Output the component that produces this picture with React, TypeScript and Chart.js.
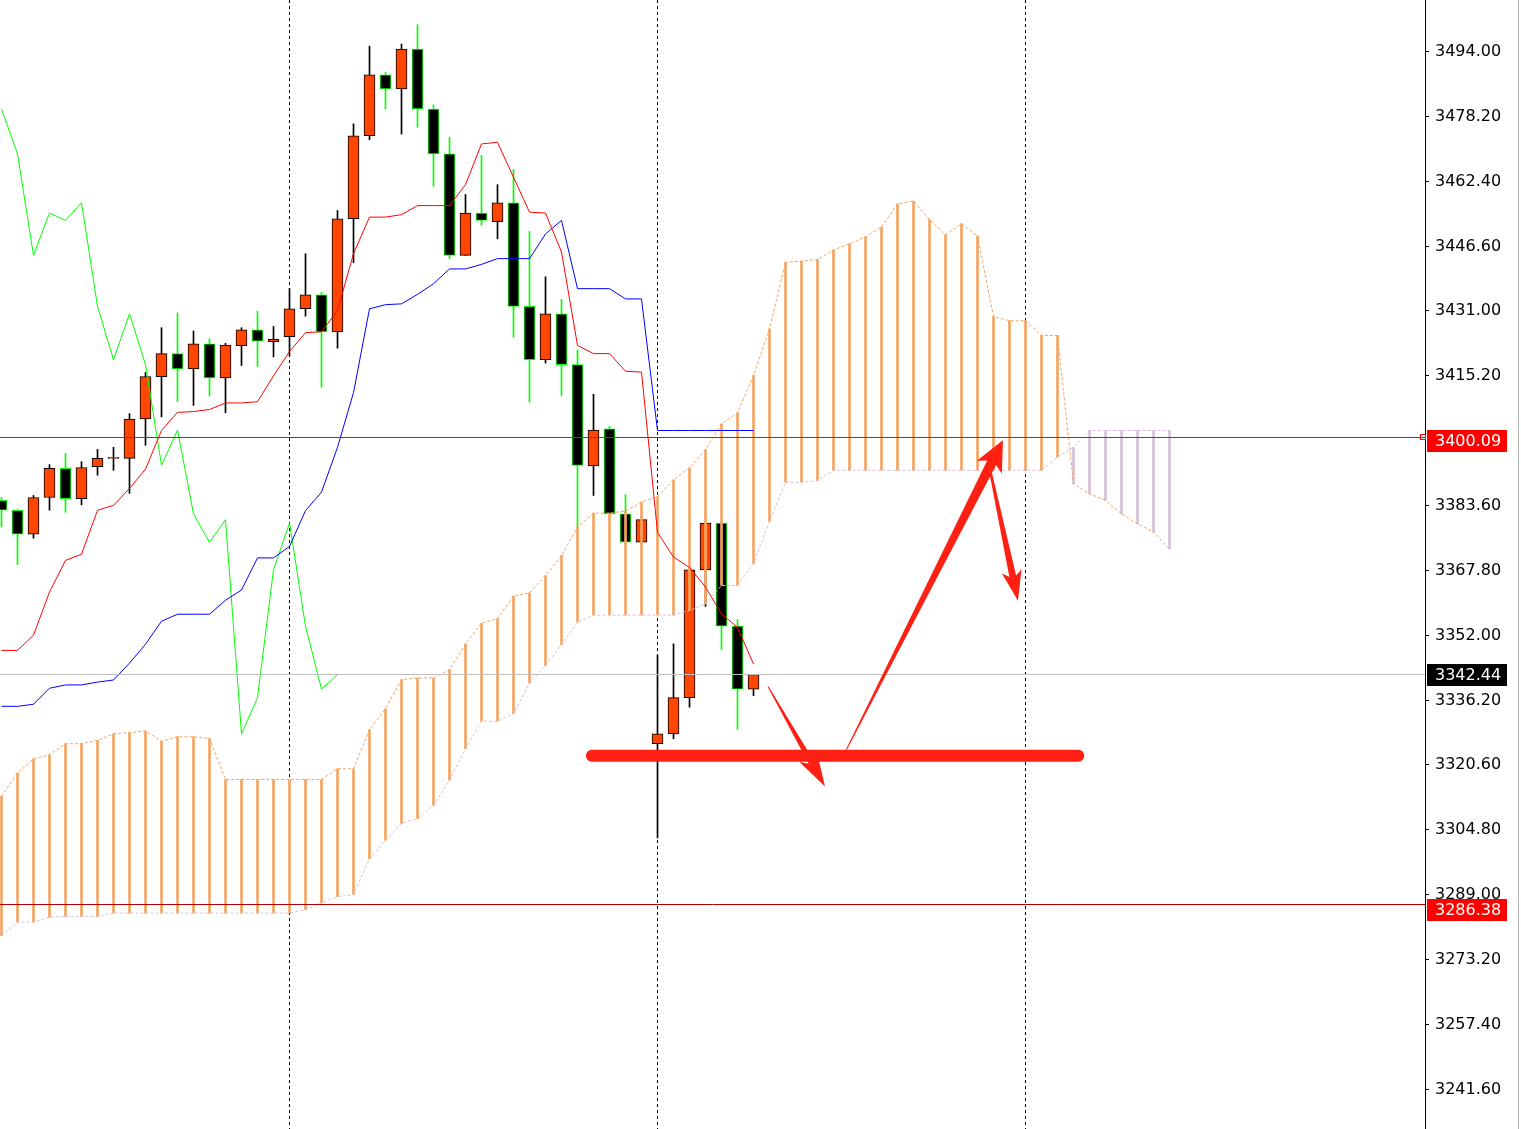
import React, { useEffect, useRef } from 'react';
import { Chart, registerables } from 'chart.js';

Chart.register(...registerables);

// ---- Candles (bar index 0..47) ----
const opens = [3384.8, 3382.4, 3376.6, 3385.5, 3392.6, 3385.2, 3393.0, 3395.0, 3395.0, 3404.6, 3414.9, 3420.5, 3416.8, 3422.9, 3414.6, 3422.4, 3426.3, 3423.4, 3424.6, 3431.4, 3434.8, 3425.8, 3453.3, 3473.5, 3488.3, 3484.9, 3494.6, 3480.0, 3469.1, 3444.4, 3454.7, 3452.6, 3457.2, 3432.0, 3419.0, 3430.2, 3417.8, 3393.2, 3402.2, 3381.5, 3374.6, 3325.6, 3328.0, 3336.8, 3367.9, 3379.3, 3354.2, 3338.9];
const highs = [3385.5, 3382.6, 3386.0, 3393.5, 3396.2, 3394.2, 3397.2, 3397.7, 3405.9, 3415.9, 3426.8, 3430.4, 3426.0, 3424.1, 3423.0, 3426.8, 3430.8, 3427.1, 3436.3, 3444.8, 3435.4, 3455.3, 3476.4, 3495.3, 3488.9, 3495.8, 3500.5, 3481.0, 3473.1, 3459.2, 3468.7, 3461.6, 3465.3, 3450.2, 3439.2, 3433.7, 3421.3, 3410.6, 3402.8, 3386.2, 3380.1, 3347.1, 3349.9, 3367.9, 3379.3, 3379.3, 3355.8, 3342.44];
const lows = [3378.4, 3369.2, 3375.6, 3382.4, 3381.9, 3383.7, 3390.9, 3392.1, 3386.5, 3398.2, 3405.1, 3408.8, 3407.9, 3410.2, 3406.1, 3417.6, 3417.4, 3419.7, 3420.0, 3429.6, 3412.3, 3421.8, 3442.6, 3472.5, 3480.0, 3473.9, 3475.6, 3461.2, 3443.6, 3444.4, 3451.7, 3448.4, 3424.5, 3408.7, 3418.2, 3410.3, 3378.3, 3386.0, 3381.5, 3374.6, 3374.6, 3302.7, 3326.8, 3334.5, 3359.0, 3348.5, 3329.1, 3337.3];
const closes = [3382.4, 3376.6, 3385.5, 3392.6, 3385.2, 3392.8, 3395.0, 3395.0, 3404.6, 3414.9, 3420.5, 3416.8, 3422.9, 3414.6, 3422.6, 3426.3, 3423.5, 3424.0, 3431.4, 3434.8, 3425.8, 3453.3, 3473.5, 3488.3, 3484.9, 3494.6, 3480.0, 3469.1, 3444.4, 3454.7, 3452.9, 3457.2, 3432.0, 3419.0, 3430.2, 3417.8, 3393.3, 3401.9, 3381.5, 3374.6, 3380.1, 3328.0, 3336.8, 3367.9, 3379.3, 3354.2, 3338.9, 3342.44];

// ---- Ichimoku ----
const tenkan = [3348.3, 3348.3, 3352.0, 3362.5, 3370.2, 3371.7, 3382.4, 3383.6, 3387.7, 3392.4, 3401.8, 3406.2, 3406.4, 3406.9, 3408.5, 3408.5, 3408.8, 3415.1, 3421.0, 3425.6, 3425.8, 3431.0, 3444.8, 3453.7, 3453.7, 3454.3, 3456.5, 3456.5, 3456.5, 3461.6, 3471.5, 3471.9, 3463.4, 3454.9, 3454.7, 3445.2, 3422.5, 3420.5, 3420.5, 3416.2, 3416.0, 3377.0, 3371.0, 3368.5, 3363.7, 3357.2, 3353.9, 3345.0];
const kijun = [3334.7, 3334.7, 3335.2, 3339.1, 3339.9, 3339.9, 3340.6, 3341.1, 3345.2, 3349.8, 3355.4, 3357.1, 3357.1, 3357.1, 3360.5, 3363.0, 3370.8, 3370.8, 3373.6, 3382.3, 3386.8, 3397.7, 3411.0, 3431.4, 3432.4, 3432.6, 3434.9, 3437.5, 3441.1, 3441.1, 3442.2, 3443.6, 3443.6, 3443.6, 3449.6, 3452.9, 3436.3, 3436.3, 3436.3, 3433.8, 3433.8, 3401.8, 3401.8, 3401.8, 3401.8, 3401.8, 3401.8, 3401.8];
// Senkou spans, bar index 0..73 (26 bars ahead of the last candle)
const spanA = [3312.8, 3318.5, 3321.9, 3322.9, 3325.6, 3325.6, 3326.4, 3328.0, 3328.3, 3328.7, 3326.2, 3327.3, 3327.3, 3326.9, 3316.9, 3316.9, 3316.9, 3316.9, 3316.9, 3316.9, 3316.9, 3319.5, 3319.5, 3329.0, 3334.1, 3341.2, 3341.6, 3341.6, 3343.6, 3349.9, 3354.9, 3356.0, 3361.5, 3362.3, 3366.5, 3371.4, 3378.3, 3381.7, 3381.7, 3382.2, 3384.4, 3385.7, 3389.8, 3392.7, 3397.1, 3403.4, 3406.1, 3415.2, 3426.5, 3442.7, 3443.0, 3443.4, 3445.7, 3447.2, 3448.9, 3451.3, 3456.9, 3457.6, 3453.1, 3449.4, 3452.1, 3449.1, 3429.5, 3428.5, 3428.5, 3424.9, 3424.9, 3388.8, 3386.4, 3384.8, 3381.5, 3379.1, 3377.1, 3373.0];
const spanB = [3278.9, 3282.2, 3282.2, 3283.4, 3283.6, 3283.6, 3283.6, 3284.4, 3284.4, 3284.4, 3284.4, 3284.4, 3284.4, 3284.4, 3284.4, 3284.4, 3284.4, 3284.4, 3284.4, 3285.2, 3286.9, 3288.4, 3288.9, 3297.6, 3302.1, 3306.2, 3307.4, 3310.6, 3316.7, 3324.4, 3331.1, 3331.1, 3332.9, 3340.3, 3344.6, 3349.7, 3355.2, 3356.9, 3356.9, 3356.9, 3356.9, 3356.9, 3356.9, 3358.0, 3359.6, 3364.1, 3364.1, 3369.4, 3379.7, 3389.2, 3389.2, 3389.6, 3392.1, 3392.1, 3392.1, 3392.1, 3392.1, 3392.1, 3392.1, 3392.1, 3392.1, 3392.1, 3392.1, 3392.1, 3392.1, 3392.1, 3395.3, 3397.7, 3401.8, 3401.8, 3401.8, 3401.8, 3401.8, 3401.8];
const chikouShift = 26;

// ---- Axis / levels ----
const yTicks = [3494.0, 3478.2, 3462.4, 3446.6, 3431.0, 3415.2, 3383.6, 3367.8, 3352.0, 3336.2, 3320.6, 3304.8, 3289.0, 3273.2, 3257.4, 3241.6];
const gridBars = [18, 41, 64];
const resistancePrice = 3400.09;
const lastPrice = 3342.44;
const supportPrice = 3286.38;

// ---- Hand-drawn annotations (bar index, price) ----
const levelLineBars = [36.9, 67.3];
const levelLinePrice = 3322.7;
const arrowFromBar = [47.91, 52.72, 61.66];
const arrowFromPrice = [3339.5, 3323.5, 3394.5];
const arrowToBar = [51.47, 62.59, 63.53];
const arrowToPrice = [3315.2, 3399.4, 3360.4];

const X_MIN = -1.5 / 16;
const X_MAX = (1425 - 1.5) / 16;
const Y_MAX = resistancePrice + 437.5 / 4.111;
const Y_MIN = resistancePrice - (1129 - 437.5) / 4.111;

const BULL = '#FF4500';
const LIME = '#00FF00';
const SANDY = '#F4A460';
const THISTLE = '#D8BFD8';
const ARROW_RED = '#FF2014';
const FONT = '16px "DejaVu Sans", sans-serif';

function drawArrow(ctx: CanvasRenderingContext2D, x0: number, y0: number, x1: number, y1: number, w0: number, w1: number, headLen: number, headW: number) {
  const dx = x1 - x0, dy = y1 - y0;
  const len = Math.hypot(dx, dy);
  const ux = dx / len, uy = dy / len;
  const nx = -uy, ny = ux;
  const bx = x1 - ux * headLen * 0.75, by = y1 - uy * headLen * 0.75;
  ctx.beginPath();
  ctx.moveTo(x0 + nx * w0 / 2, y0 + ny * w0 / 2);
  ctx.lineTo(bx + nx * w1 / 2, by + ny * w1 / 2);
  ctx.lineTo(bx - nx * w1 / 2, by - ny * w1 / 2);
  ctx.lineTo(x0 - nx * w0 / 2, y0 - ny * w0 / 2);
  ctx.closePath();
  ctx.fill();
  const hx = x1 - ux * headLen, hy = y1 - uy * headLen;
  ctx.beginPath();
  ctx.moveTo(x1, y1);
  ctx.lineTo(hx + nx * headW / 2, hy + ny * headW / 2);
  ctx.lineTo(bx, by);
  ctx.lineTo(hx - nx * headW / 2, hy - ny * headW / 2);
  ctx.closePath();
  ctx.fill();
}

const overlayPlugin = {
  id: 'overlay',
  beforeDatasetsDraw(chart: any) {
    const { ctx, chartArea: a, scales } = chart;
    const x = scales.x;
    ctx.save();
    ctx.strokeStyle = '#000';
    ctx.lineWidth = 1;
    ctx.setLineDash([3, 3]);
    gridBars.forEach((b) => {
      const px = Math.round(x.getPixelForValue(b) - 0.5) + 0.5;
      ctx.beginPath();
      ctx.moveTo(px, a.top);
      ctx.lineTo(px, a.bottom);
      ctx.stroke();
    });
    ctx.restore();
  },
  afterDatasetsDraw(chart: any) {
    const { ctx, chartArea: a, scales } = chart;
    const x = scales.x, y = scales.y;
    ctx.save();
    ctx.lineWidth = 1;
    const hl = (v: number, color: string) => {
      const py = Math.round(y.getPixelForValue(v) - 0.5) + 0.5;
      ctx.strokeStyle = color;
      ctx.beginPath();
      ctx.moveTo(a.left, py);
      ctx.lineTo(a.right, py);
      ctx.stroke();
    };
    hl(lastPrice, '#C0C0C0');
    hl(resistancePrice, '#FF0000');
    hl(supportPrice, '#B00000');

    // thick support line
    ctx.strokeStyle = ARROW_RED;
    ctx.lineWidth = 12;
    ctx.lineCap = 'round';
    const ly = y.getPixelForValue(levelLinePrice);
    ctx.beginPath();
    ctx.moveTo(x.getPixelForValue(levelLineBars[0]), ly);
    ctx.lineTo(x.getPixelForValue(levelLineBars[1]), ly);
    ctx.stroke();

    // arrows
    ctx.fillStyle = ARROW_RED;
    const shaft0 = [1, 1, 2];
    const shaft1 = [6, 10, 7];
    const headL = [34, 30, 30];
    const headW = [20, 28, 20];
    arrowFromBar.forEach((fb, k) => {
      drawArrow(
        ctx,
        x.getPixelForValue(fb), y.getPixelForValue(arrowFromPrice[k]),
        x.getPixelForValue(arrowToBar[k]), y.getPixelForValue(arrowToPrice[k]),
        shaft0[k], shaft1[k], headL[k], headW[k]
      );
    });
    ctx.restore();
  },
  afterDraw(chart: any) {
    const { ctx, chartArea: a, scales, height } = chart;
    const y = scales.y;
    ctx.save();
    // axis line
    ctx.fillStyle = '#000';
    ctx.fillRect(a.right, 0, 1, height);
    // right border
    ctx.fillStyle = '#B8B8B8';
    ctx.fillRect(1518, 0, 1, height);
    ctx.font = FONT;
    ctx.textBaseline = 'middle';
    ctx.textAlign = 'left';
    yTicks.forEach((v) => {
      const py = Math.round(y.getPixelForValue(v));
      ctx.fillStyle = '#000';
      ctx.fillRect(a.right + 1, py, 3, 1);
      ctx.fillText(v.toFixed(2), a.right + 10, py + 1);
    });
    const box = (v: number, bg: string, shift: number) => {
      const py = Math.round(y.getPixelForValue(v)) + shift;
      ctx.fillStyle = bg;
      ctx.fillRect(a.right + 2, py - 11, 80, 22);
      ctx.fillStyle = '#FFFFFF';
      ctx.fillText(v.toFixed(2), a.right + 10, py + 1);
    };
    box(resistancePrice, '#FF0000', 4);
    box(lastPrice, '#000000', 1);
    box(supportPrice, '#FF0000', 5);
    // small marker square at axis
    const ry = Math.round(y.getPixelForValue(resistancePrice));
    ctx.strokeStyle = '#FF0000';
    ctx.lineWidth = 1;
    ctx.strokeRect(a.right - 4.5, ry - 2.5, 5, 5);
    ctx.restore();
  },
};

export default function App() {
  const ref = useRef<HTMLCanvasElement | null>(null);

  useEffect(() => {
    document.body.style.margin = '0';
    const canvas = ref.current;
    if (!canvas) return;

    const isBull = (i: number) => closes[i] >= opens[i];
    const wickData = opens.map((_, i) => ({ x: i, y: [lows[i], highs[i]] }));
    const bodyData = opens.map((o, i) => ({ x: i, y: [o, closes[i]] }));
    const cloudData = spanA.map((v, i) => ({ x: i, y: [v, spanB[i]] }));

    const chart = new Chart(canvas, {
      type: 'bar',
      data: {
        datasets: [
          {
            type: 'line',
            label: 'Tenkan',
            data: tenkan.map((v, i) => ({ x: i, y: v })),
            borderColor: '#FF0000',
            borderWidth: 1,
            pointRadius: 0,
            tension: 0,
            order: 1,
          } as any,
          {
            type: 'line',
            label: 'Kijun',
            data: kijun.map((v, i) => ({ x: i, y: v })),
            borderColor: '#0000FF',
            borderWidth: 1,
            pointRadius: 0,
            tension: 0,
            order: 1,
          },
          {
            type: 'line',
            label: 'Chikou',
            data: closes.slice(chikouShift).map((v, k) => ({ x: k, y: v })),
            borderColor: LIME,
            borderWidth: 1,
            pointRadius: 0,
            tension: 0,
            order: 1,
          },
          {
            type: 'line',
            label: 'Span A',
            data: spanA.map((v, i) => ({ x: i, y: v })),
            borderColor: SANDY,
            borderWidth: 1,
            borderDash: [3, 2],
            pointRadius: 0,
            tension: 0,
            order: 2,
          },
          {
            type: 'line',
            label: 'Span B',
            data: spanB.map((v, i) => ({ x: i, y: v })),
            borderColor: THISTLE,
            borderWidth: 1,
            borderDash: [3, 2],
            pointRadius: 0,
            tension: 0,
            order: 2,
          },
          {
            type: 'bar',
            label: 'Cloud',
            data: cloudData,
            backgroundColor: spanA.map((v, i) => (v >= spanB[i] ? SANDY : THISTLE)),
            borderWidth: 0,
            barThickness: 2,
            grouped: false,
            order: 3,
          },
          {
            type: 'bar',
            label: 'Bodies',
            data: bodyData,
            backgroundColor: opens.map((_, i) => (isBull(i) ? BULL : '#000000')),
            borderColor: opens.map((_, i) => (isBull(i) ? '#000000' : LIME)),
            borderWidth: 1,
            borderSkipped: false,
            barThickness: 11,
            minBarLength: 1,
            grouped: false,
            order: 4,
          },
          {
            type: 'bar',
            label: 'Wicks',
            data: wickData,
            backgroundColor: opens.map((_, i) => (isBull(i) ? '#000000' : LIME)),
            borderWidth: 0,
            barThickness: 1,
            grouped: false,
            order: 5,
          },
        ] as any,
      },
      options: {
        responsive: false,
        animation: false,
        devicePixelRatio: 1,
        events: [],
        layout: { padding: { left: 0, right: 96, top: 0, bottom: 0 } },
        plugins: {
          legend: { display: false },
          tooltip: { enabled: false },
        },
        scales: {
          x: { type: 'linear', display: false, min: X_MIN, max: X_MAX, offset: false },
          y: { type: 'linear', display: false, min: Y_MIN, max: Y_MAX, beginAtZero: false },
        },
      } as any,
      plugins: [overlayPlugin],
    });

    return () => chart.destroy();
  }, []);

  return (
    <div style={{ position: 'absolute', left: 0, top: 0, width: 1521, height: 1129, background: '#FFFFFF' }}>
      <canvas ref={ref} width={1521} height={1129} style={{ display: 'block', width: 1521, height: 1129 }} />
    </div>
  );
}
